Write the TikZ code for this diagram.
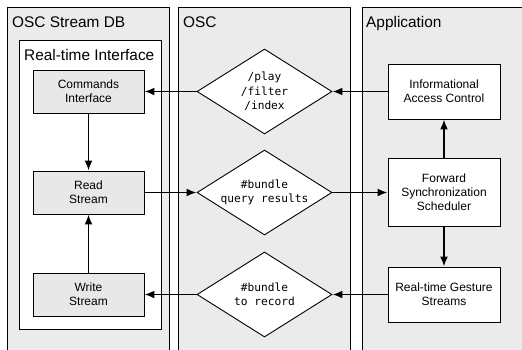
\documentclass[tikz,border=0pt]{standalone}
\usepackage{fontspec}
\setmainfont{Liberation Sans}
\setmonofont{DejaVu Sans Mono}
\usetikzlibrary{arrows.meta,shapes.geometric}
\definecolor{laneGray}{RGB}{235,235,235}
\definecolor{boxGray}{RGB}{232,232,232}
\tikzset{
  lane/.style={draw=black, line width=0.9pt, fill=laneGray},
  hdr/.style={anchor=base west, inner sep=0pt, font=\fontsize{15.4}{18}\selectfont},
  gbox/.style={draw=black, line width=0.9pt, fill=boxGray, minimum width=111pt, minimum height=43pt, inner sep=0pt, align=center, font=\fontsize{12}{14}\selectfont},
  wbox/.style={draw=black, line width=0.9pt, fill=white, minimum width=112pt, inner sep=0pt, align=center, font=\fontsize{12}{14}\selectfont},
  dia/.style={diamond, draw=black, line width=0.9pt, fill=white, aspect=1.59, inner sep=0pt, minimum width=135pt, minimum height=85pt, align=center, font=\ttfamily\fontsize{11.2}{14.5}\selectfont},
  arr/.style={line width=1.8pt, -{Latex[length=10pt,width=8pt]}}
}
\begin{document}
\begin{tikzpicture}[x=1pt,y=-1pt]
\useasboundingbox (0,0) rectangle (522,349);
\clip (0,0) rectangle (522,349);
\fill[white] (0,0) rectangle (522,349);
% lanes
\draw[lane] (7,7) rectangle (169,360);
\draw[lane] (178.5,7) rectangle (350,360);
\draw[lane] (362,7) rectangle (540,360);
\node[hdr] (hdb) at (12,27) {OSC Stream DB};
\node[hdr] (hosc) at (183,27) {OSC};
\node[hdr] (happ) at (366,27) {Application};
% inner interface box
\draw[line width=0.9pt, fill=white] (19,40) rectangle (161,329);
\node[hdr] (hrti) at (24,60) {Real-time Interface};
% DB boxes
\node[gbox] (cmd) at (88.5,91.5) {Commands\\Interface};
\node[gbox] (read) at (88.5,192.5) {Read\\Stream};
\node[gbox] (write) at (88.5,294.5) {Write\\Stream};
% diamonds
\node[dia] (d1) at (264.5,91.5) {/play\\/filter\\/index};
\node[dia] (d2) at (264.5,192.5) {\#bundle\\query results};
\node[dia] (d3) at (264.5,294.5) {\#bundle\\to record};
% app boxes
\node[wbox, minimum height=55pt] (info) at (444,91.5) {Informational\\Access Control};
\node[wbox, minimum height=68pt] (fwd) at (444,192.5) {Forward\\Synchronization\\Scheduler};
\node[wbox, minimum height=55pt] (gest) at (444,294.5) {Real-time Gesture\\Streams};
% arrows
\draw[arr] (info.west) -- (d1.east);
\draw[arr] (d1.west) -- (cmd.east);
\draw[arr] (cmd.south) -- (read.north);
\draw[arr] (write.north) -- (read.south);
\draw[arr] (read.east) -- (d2.west);
\draw[arr] (d2.east) -- (fwd.west);
\draw[arr] (fwd.north) -- (info.south);
\draw[arr] (fwd.south) -- (gest.north);
\draw[arr] (gest.west) -- (d3.east);
\draw[arr] (d3.west) -- (write.east);
\end{tikzpicture}
\end{document}
